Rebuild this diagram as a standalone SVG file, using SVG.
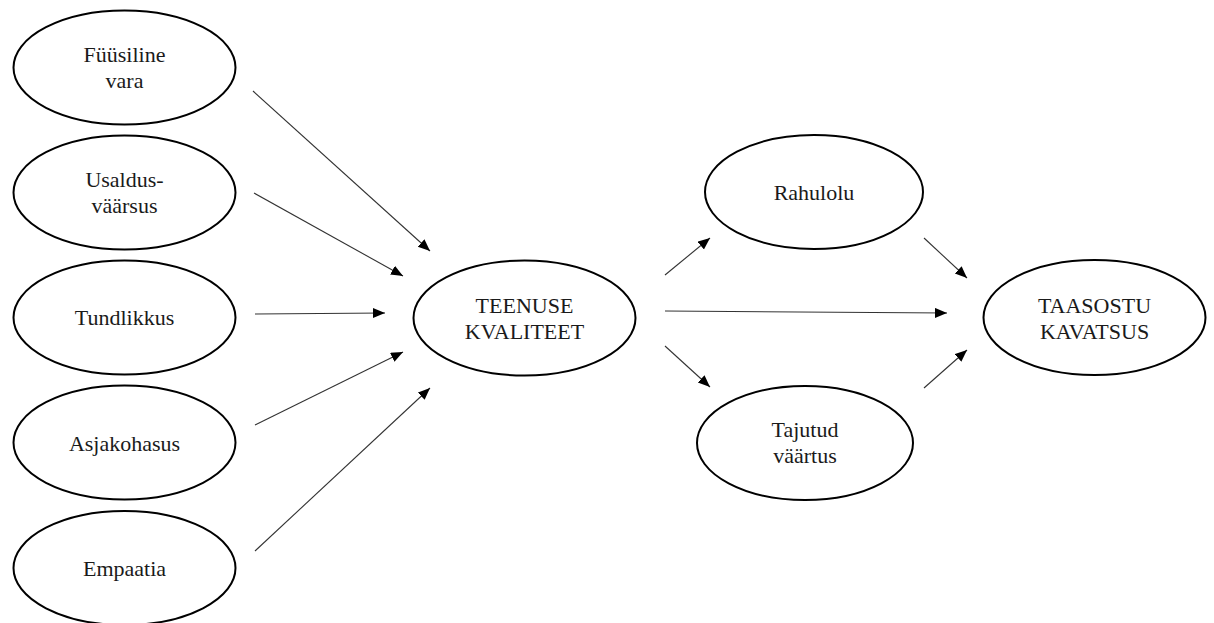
<svg xmlns="http://www.w3.org/2000/svg" width="1214" height="623" viewBox="0 0 1214 623">
  <style>
    .node ellipse { fill: #ffffff; stroke: #000000; stroke-width: 2; }
    .node text { font-family: 'Liberation Serif', 'Times New Roman', 'DejaVu Serif', serif; font-size: 22px; fill: #1a1a1a; text-anchor: middle; }
    .edge { stroke: #333333; stroke-width: 1.1; fill: none; marker-end: url(#arrow); }
  </style>
  <defs>
    <marker id="arrow" markerUnits="userSpaceOnUse" markerWidth="13" markerHeight="11" refX="12" refY="5" orient="auto">
      <path d="M0,0 L12,5 L0,10 z" fill="#000000"/>
    </marker>
  </defs>
  <rect width="1214" height="623" fill="#ffffff"/>

  <!-- dimensions of service quality -->
  <g id="fuusiline-vara" class="node" font-family="Liberation Serif, serif">
    <ellipse cx="124.5" cy="67.5" rx="111" ry="57"/>
    <text x="124.5" y="62">Füüsiline</text>
    <text x="124.5" y="88">vara</text>
  </g>
  <g id="usaldusvaarsus" class="node" font-family="Liberation Serif, serif">
    <ellipse cx="124.5" cy="192.5" rx="111" ry="57"/>
    <text x="124.5" y="187">Usaldus-</text>
    <text x="124.5" y="213">väärsus</text>
  </g>
  <g id="tundlikkus" class="node" font-family="Liberation Serif, serif">
    <ellipse cx="124.5" cy="317.5" rx="111" ry="57"/>
    <text x="124.5" y="325">Tundlikkus</text>
  </g>
  <g id="asjakohasus" class="node" font-family="Liberation Serif, serif">
    <ellipse cx="124.5" cy="442.5" rx="111" ry="57"/>
    <text x="124.5" y="451">Asjakohasus</text>
  </g>
  <g id="empaatia" class="node" font-family="Liberation Serif, serif">
    <ellipse cx="124.5" cy="568" rx="111" ry="57"/>
    <text x="124.5" y="576">Empaatia</text>
  </g>

  <!-- central construct -->
  <g id="teenuse-kvaliteet" class="node" font-family="Liberation Serif, serif">
    <ellipse cx="524.5" cy="318" rx="111" ry="57.5"/>
    <text x="524.5" y="313">TEENUSE</text>
    <text x="524.5" y="339">KVALITEET</text>
  </g>

  <!-- mediators -->
  <g id="rahulolu" class="node" font-family="Liberation Serif, serif">
    <ellipse cx="814" cy="192" rx="109" ry="57"/>
    <text x="814" y="200">Rahulolu</text>
  </g>
  <g id="tajutud-vaartus" class="node" font-family="Liberation Serif, serif">
    <ellipse cx="805" cy="443" rx="108" ry="57"/>
    <text x="805" y="437">Tajutud</text>
    <text x="805" y="463">väärtus</text>
  </g>

  <!-- outcome -->
  <g id="taasostu-kavatsus" class="node" font-family="Liberation Serif, serif">
    <ellipse cx="1094.5" cy="317.5" rx="111" ry="57.5"/>
    <text x="1094.5" y="313">TAASOSTU</text>
    <text x="1094.5" y="339">KAVATSUS</text>
  </g>

  <!-- connectors -->
  <g id="connectors">
    <line class="edge" x1="253" y1="91" x2="430" y2="251"/>
    <line class="edge" x1="254" y1="193" x2="403" y2="276"/>
    <line class="edge" x1="255" y1="314" x2="385" y2="313"/>
    <line class="edge" x1="255" y1="425" x2="403" y2="352"/>
    <line class="edge" x1="255" y1="551" x2="430" y2="388"/>
    <line class="edge" x1="665" y1="275" x2="710" y2="238"/>
    <line class="edge" x1="665" y1="311" x2="947" y2="313"/>
    <line class="edge" x1="665" y1="346" x2="710" y2="387"/>
    <line class="edge" x1="924" y1="238" x2="967" y2="278"/>
    <line class="edge" x1="924" y1="388" x2="967" y2="350"/>
  </g>
</svg>
